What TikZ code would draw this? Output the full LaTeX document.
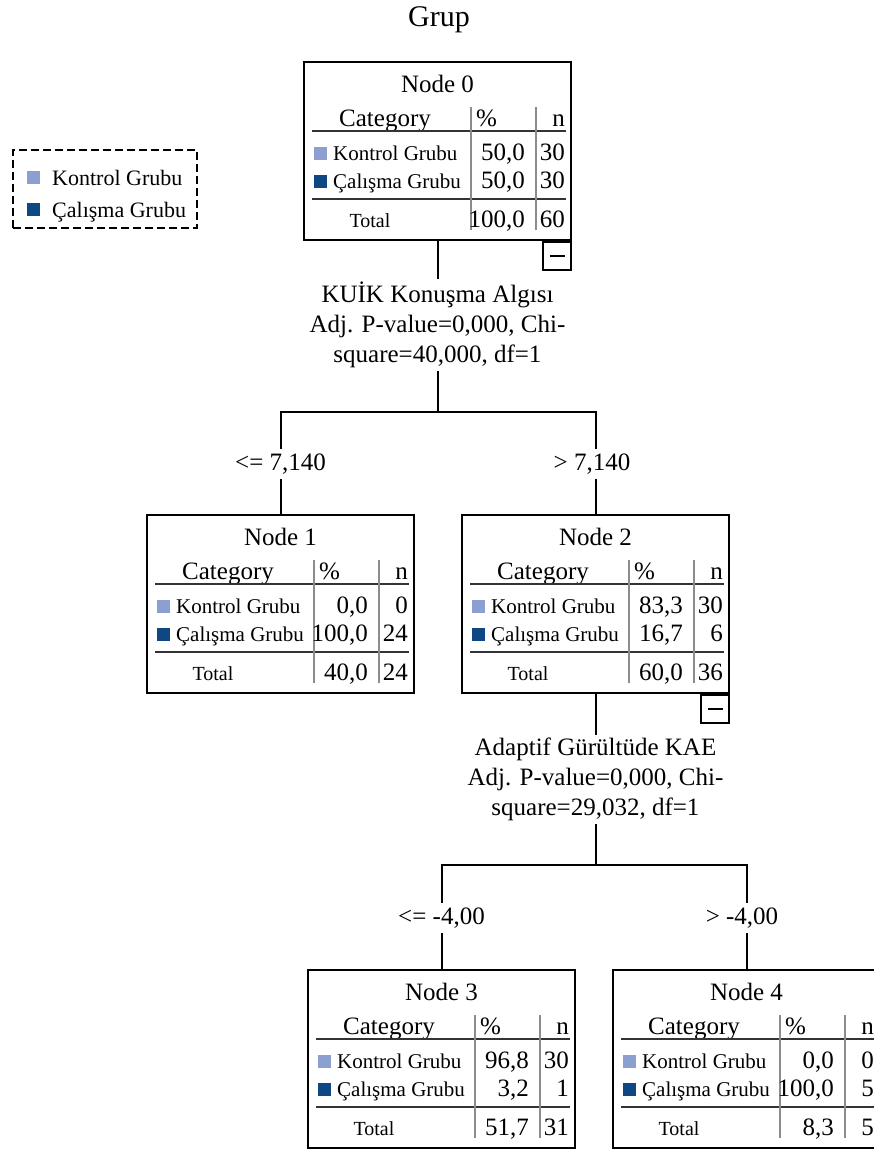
\documentclass[tikz,border=0pt]{standalone}
\usepackage{fontspec}
\setmainfont{Liberation Serif}
\definecolor{kontrol}{RGB}{141,158,209}
\definecolor{calisma}{RGB}{14,72,130}
\tikzset{
  treebox/.style={draw, line width=2pt, minimum width=267pt, minimum height=178pt,
    inner sep=0pt, outer sep=0pt, anchor=north west},
  minusbox/.style={draw, line width=1.6pt, minimum size=28pt, inner sep=0pt,
    outer sep=0pt, anchor=north east},
  conn/.style={line width=2pt},
  tabrule/.style={line width=1.4pt, black!80},
  colsep/.style={line width=1.1pt, black!45},
  big/.style={font=\fontsize{25}{30}\selectfont, inner sep=0pt},
  mid/.style={font=\fontsize{21}{25}\selectfont, inner sep=0pt},
  tot/.style={font=\fontsize{20}{24}\selectfont, inner sep=0pt},
  splitlbl/.style={font=\fontsize{25}{30}\selectfont, align=center, inner sep=3pt, anchor=north},
  edgelbl/.style={font=\fontsize{25}{30}\selectfont, fill=white, inner xsep=2pt, inner ysep=5pt}
}
% table inside a tree node: name, title, kontrol %/n, calisma %/n, total %/n
\newcommand\nodetable[8]{%
  \begin{scope}[shift={(#1.north west)}]
    \node[big, anchor=base] (#1-ttl) at (133.5,30) {#2};
    \node[big, anchor=base] (#1-cat) at (81,64) {Category};
    \node[big, anchor=base west] (#1-pc) at (172,64) {\%};
    \node[big, anchor=base east] (#1-n) at (261,64) {n};
    \draw[tabrule] (8,69) -- (262,69);
    \draw[tabrule] (8,137) -- (262,137);
    \foreach \x in {167,232}
      \draw[colsep] (\x,45) -- (\x,168);
    \fill[kontrol] (10,85) rectangle (23,98);
    \fill[calisma] (10,113) rectangle (23,126);
    \node[mid, anchor=base west] (#1-k) at (29,98) {Kontrol Grubu};
    \node[mid, anchor=base west] (#1-c) at (29,126) {Çalışma Grubu};
    \node[tot, anchor=base] (#1-t) at (66,165) {Total};
    \node[big, anchor=base east] (#1-kp) at (221,98) {#3};
    \node[big, anchor=base east] (#1-kn) at (261,98) {#4};
    \node[big, anchor=base east] (#1-cp) at (221,126) {#5};
    \node[big, anchor=base east] (#1-cn) at (261,126) {#6};
    \node[big, anchor=base east] (#1-tp) at (221,165) {#7};
    \node[big, anchor=base east] (#1-tn) at (261,165) {#8};
  \end{scope}}
\begin{document}
\begin{tikzpicture}[x=1pt, y=-1pt]
\useasboundingbox (0,0) rectangle (874,1149);

\node[font=\fontsize{30}{36}\selectfont] (title) at (439,20) {Grup};

% legend
\node[draw, line width=1.8pt, dash pattern=on 8pt off 4pt, minimum width=184pt,
  minimum height=78pt, anchor=north west] (leg) at (12,149) {};
\fill[kontrol] (27,171) rectangle (40,184);
\fill[calisma] (27,203) rectangle (40,216);
\node[font=\fontsize{22}{26}\selectfont, inner sep=0pt, anchor=base west] (leg-k) at (52,185) {Kontrol Grubu};
\node[font=\fontsize{22}{26}\selectfont, inner sep=0pt, anchor=base west] (leg-c) at (52,217) {Çalışma Grubu};

% tree nodes
\foreach \name/\x/\y in {n0/304/62, n1/147/515, n2/462/515, n3/308/970, n4/613/970}
  \node[treebox] (\name) at (\x,\y) {};

\nodetable{n0}{Node 0}{50,0}{30}{50,0}{30}{100,0}{60}
\nodetable{n1}{Node 1}{0,0}{0}{100,0}{24}{40,0}{24}
\nodetable{n2}{Node 2}{83,3}{30}{16,7}{6}{60,0}{36}
\nodetable{n3}{Node 3}{96,8}{30}{3,2}{1}{51,7}{31}
\nodetable{n4}{Node 4}{0,0}{0}{100,0}{5}{8,3}{5}

\node[minusbox, yshift=-2pt] (m0) at (n0.south east) {\rule{15pt}{1.6pt}};
\node[minusbox, yshift=-2pt] (m2) at (n2.south east) {\rule{15pt}{1.6pt}};

% splits
\node[splitlbl] (s1) at (437.5,279) {KUİK Konuşma Algısı\\Adj. P-value=0,000, Chi-\\square=40,000, df=1};
\node[splitlbl] (s2) at (595.5,735) {Adaptif Gürültüde KAE\\Adj. P-value=0,000, Chi-\\square=29,032, df=1};
\coordinate (h1) at (437.5,412);
\coordinate (h2) at (595.5,865);

\draw[conn] (n0.south) -- (s1.north);
\draw[conn] (s1.south) -- (h1);
\draw[conn] (n1.north) |- (h1) -| (n2.north);
\draw[conn] (n2.south) -- (s2.north);
\draw[conn] (s2.south) -- (h2);
\draw[conn] (n3.north) |- (h2) -| (n4.north);

\node[edgelbl] (e1) at (280.5,464) {<= 7,140};
\node[edgelbl] (e2) at (592,464) {> 7,140};
\node[edgelbl] (e3) at (441.5,918) {<= -4,00};
\node[edgelbl] (e4) at (742,918) {> -4,00};
\end{tikzpicture}
\end{document}
